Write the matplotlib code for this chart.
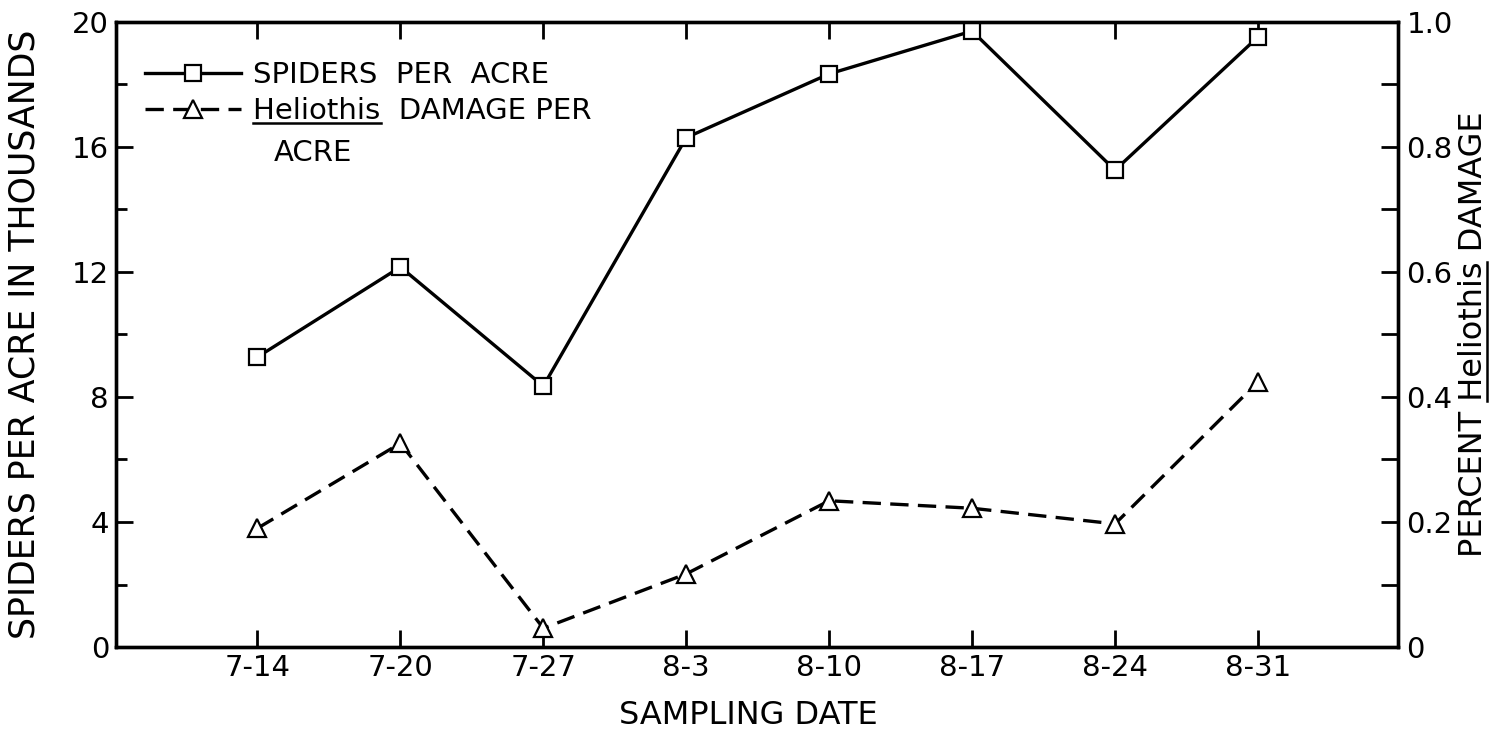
import matplotlib
matplotlib.use("Agg")
import matplotlib.pyplot as plt
from matplotlib.lines import Line2D
from matplotlib.ticker import MultipleLocator, FixedLocator

# values
dates = ["7-14", "7-20", "7-27", "8-3", "8-10", "8-17", "8-24", "8-31"]
spiders_thousands = [9.28, 12.16, 8.35, 16.30, 18.34, 19.71, 15.26, 19.52]
damage_percent = [0.190, 0.326, 0.030, 0.117, 0.234, 0.222, 0.197, 0.424]
left_ticks = [0, 4, 8, 12, 16, 20]
right_ticks = [0, 0.2, 0.4, 0.6, 0.8, 1.0]
right_tick_labels = ["0", "0.2", "0.4", "0.6", "0.8", "1.0"]

plt.rcParams['font.family'] = ['DejaVu Sans']

W, H = 1495, 731
fig = plt.figure(figsize=(W / 100, H / 100), dpi=100)
ax = fig.add_axes([116 / W, 1 - 647 / H, (1398 - 116) / W, (647 - 22) / H])
ax2 = ax.twinx()

xpos = list(range(len(dates)))

l1, = ax.plot(xpos, spiders_thousands, color='black', lw=2.4, marker='s',
              ms=11.5, mfc='white', mec='black', mew=1.6, zorder=3)
l2, = ax2.plot(xpos, damage_percent, color='black', lw=2.4,
               ls=(0, (5.5, 2.8)), marker='^', ms=13, mfc='white',
               mec='black', mew=1.6, zorder=3)

ax.set_xlim(-0.99, 7.98)
ax.set_ylim(0, 20)
ax2.set_ylim(0, 1.0)

ax.set_xticks(xpos)
ax.set_xticklabels(dates)
ax.yaxis.set_major_locator(FixedLocator(left_ticks))
ax.yaxis.set_minor_locator(MultipleLocator(2))
ax2.yaxis.set_major_locator(FixedLocator(right_ticks))
ax2.set_yticklabels(right_tick_labels)
ax2.yaxis.set_minor_locator(MultipleLocator(0.1))

ax.tick_params(axis='x', direction='in', length=12, width=2, top=True,
               labelsize=21, pad=5)
ax.tick_params(axis='y', which='major', direction='in', length=12, width=2,
               right=False, labelsize=21, pad=5)
ax.tick_params(axis='y', which='minor', direction='in', length=8, width=2,
               right=False)
ax2.tick_params(axis='y', which='major', direction='in', length=12, width=2,
                labelsize=21, pad=6)
ax2.tick_params(axis='y', which='minor', direction='in', length=12, width=2)

for a in (ax, ax2):
    for s in a.spines.values():
        s.set_linewidth(2.4)

ax.set_xlabel('SAMPLING DATE', fontsize=23, labelpad=14)
ax.xaxis.set_label_coords(0.493, -0.085)
ax.set_ylabel('SPIDERS PER ACRE IN THOUSANDS', fontsize=25)
ax.yaxis.set_label_coords(-0.058, 0.5)
ax2.set_ylabel('PERCENT Heliothis DAMAGE', fontsize=23)
ax2.yaxis.set_label_coords(1.047, 0.5)

fs_leg = 21
leg = ax.legend([l1, l2], ['SPIDERS  PER  ACRE', 'Heliothis  DAMAGE PER'],
                loc='upper left', bbox_to_anchor=(0.0226, 0.938),
                borderaxespad=0, borderpad=0, frameon=False, fontsize=fs_leg,
                handlelength=3.3, handletextpad=0.42, labelspacing=0.3)

fig.canvas.draw()
renderer = fig.canvas.get_renderer()


def text_width(s, props):
    t = fig.text(0, 0, s, fontproperties=props)
    w = t.get_window_extent(renderer).width
    t.remove()
    return w


# second line of the legend label and the underline of the genus name
lt = leg.get_texts()[1]
bb = lt.get_window_extent(renderer)
fig.text((bb.x0 + 20) / W, (bb.y0 - 36) / H, 'ACRE',
         fontproperties=lt.get_fontproperties())
wh = text_width('Heliothis', lt.get_fontproperties())
fig.add_artist(Line2D([bb.x0 / W, (bb.x0 + wh) / W],
                      [(bb.y0 + 2) / H, (bb.y0 + 2) / H],
                      transform=fig.transFigure, color='black', lw=1.8))

# underline on the rotated right-hand label
rl = ax2.yaxis.label
rb = rl.get_window_extent(renderer)
props = rl.get_fontproperties()
w_ph = text_width('PERCENT Heliothis', props)
w_h = text_width('Heliothis', props)
ux = (rb.x1 - 2) / W
fig.add_artist(Line2D([ux, ux], [(rb.y0 + w_ph - w_h) / H, (rb.y0 + w_ph) / H],
                      transform=fig.transFigure, color='black', lw=1.8))

fig.savefig('out.png', dpi=100)
